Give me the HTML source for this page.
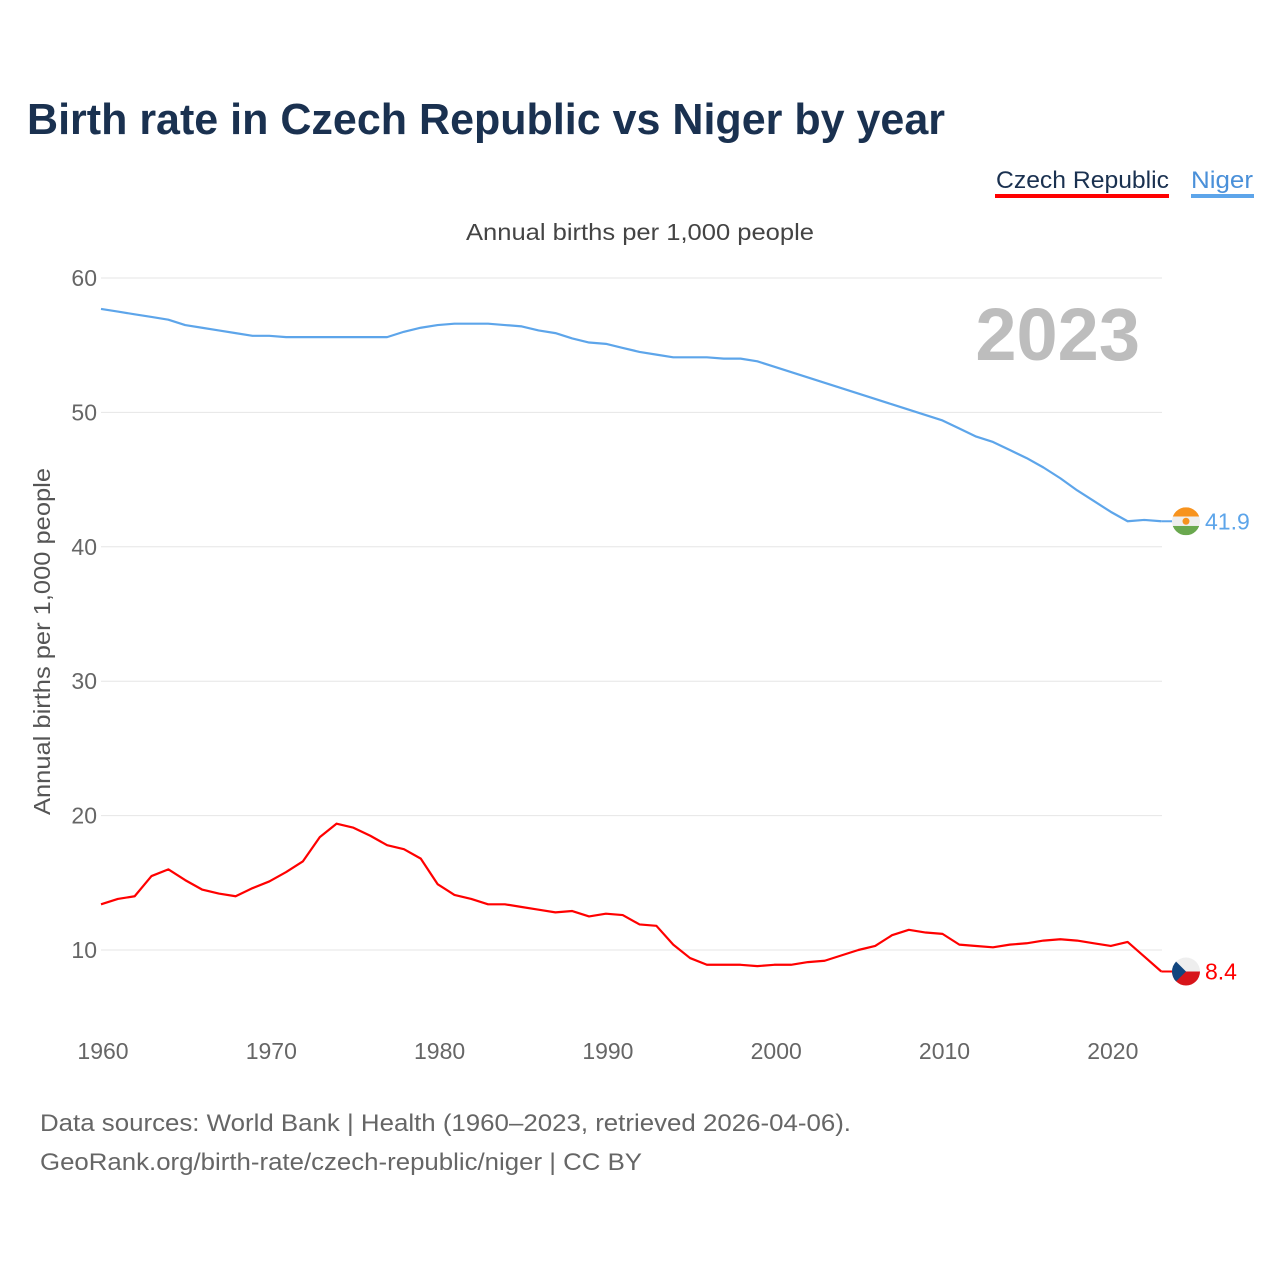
<!DOCTYPE html>
<html><head><meta charset="utf-8"><style>
body{margin:0;background:#fff;width:1280px;height:1280px;overflow:hidden;font-family:"Liberation Sans",sans-serif}
</style></head><body>
<svg width="1280" height="1280" xmlns="http://www.w3.org/2000/svg" font-family="Liberation Sans, sans-serif">
<text x="27" y="134" font-size="44" font-weight="bold" fill="#1a3150" textLength="918" lengthAdjust="spacingAndGlyphs">Birth rate in Czech Republic vs Niger by year</text>
<g>
<text x="996" y="188" font-size="24" fill="#1a3150" textLength="173" lengthAdjust="spacingAndGlyphs">Czech Republic</text>
<rect x="995" y="194" width="174" height="4" fill="#ff0000"/>
<text x="1191" y="188" font-size="24" fill="#4a90d9" textLength="62" lengthAdjust="spacingAndGlyphs">Niger</text>
<rect x="1191" y="194" width="63" height="4" fill="#5da5ea"/>
</g>
<text x="466" y="240" font-size="23" fill="#444" textLength="348" lengthAdjust="spacingAndGlyphs">Annual births per 1,000 people</text>
<text transform="translate(50,815) rotate(-90)" font-size="23" fill="#555" textLength="347" lengthAdjust="spacingAndGlyphs">Annual births per 1,000 people</text>
<text x="1140" y="360" font-size="74" font-weight="bold" fill="#bdbdbd" text-anchor="end">2023</text>
<g id="grid"></g><g id="xt"></g><g id="lines"></g>
<text x="40" y="1131" font-size="24" fill="#666" textLength="811" lengthAdjust="spacingAndGlyphs">Data sources: World Bank | Health (1960–2023, retrieved 2026-04-06).</text>
<text x="40" y="1170" font-size="24" fill="#666" textLength="602" lengthAdjust="spacingAndGlyphs">GeoRank.org/birth-rate/czech-republic/niger | CC BY</text>
</svg>
<script>
const yTicks=[10,20,30,40,50,60];
const xTicks=[1960,1970,1980,1990,2000,2010,2020];
const years=[];for(let y=1960;y<=2023;y++)years.push(y);
const czech=[13.4,13.8,14.0,15.5,16.0,15.2,14.5,14.2,14.0,14.6,15.1,15.8,16.6,18.4,19.4,19.1,18.5,17.8,17.5,16.8,14.9,14.1,13.8,13.4,13.4,13.2,13.0,12.8,12.9,12.5,12.7,12.6,11.9,11.8,10.4,9.4,8.9,8.9,8.9,8.8,8.9,8.9,9.1,9.2,9.6,10.0,10.3,11.1,11.5,11.3,11.2,10.4,10.3,10.2,10.4,10.5,10.7,10.8,10.7,10.5,10.3,10.6,9.5,8.4];
const niger=[57.7,57.5,57.3,57.1,56.9,56.5,56.3,56.1,55.9,55.7,55.7,55.6,55.6,55.6,55.6,55.6,55.6,55.6,56.0,56.3,56.5,56.6,56.6,56.6,56.5,56.4,56.1,55.9,55.5,55.2,55.1,54.8,54.5,54.3,54.1,54.1,54.1,54.0,54.0,53.8,53.4,53.0,52.6,52.2,51.8,51.4,51.0,50.6,50.2,49.8,49.4,48.8,48.2,47.8,47.2,46.6,45.9,45.1,44.2,43.4,42.6,41.9,42.0,41.9];
const X=v=>101+(v-1960)*16.83, Y=v=>950-(v-10)*13.44;
const NS="http://www.w3.org/2000/svg";
function mk(t,a,p){const e=document.createElementNS(NS,t);for(const k in a)e.setAttribute(k,a[k]);p.appendChild(e);return e;}
const g=document.getElementById('grid');
yTicks.forEach(v=>{
 const l=mk('line',{x1:101,x2:1162,y1:Y(v),y2:Y(v),stroke:'#e6e6e6','stroke-width':1},g);
 
 
 const t=mk('text',{x:97,y:Y(v)+8,'font-size':23,fill:'#666','text-anchor':'end'},g);t.textContent=v;
 
 
});
const xt=document.getElementById('xt');
xTicks.forEach(v=>{
 const t=mk('text',{x:X(v)+2,y:1059,'font-size':23,fill:'#666','text-anchor':'middle'},xt);t.textContent=v;
 
 
});
const L=document.getElementById('lines');
function series(d,c,name,flag){
 const p=mk('polyline',{points:d.map((v,i)=>X(years[i])+','+Y(v)).join(' '),fill:'none',stroke:c,'stroke-width':2.2,'stroke-linejoin':'round'},L);
 
 
 const last=d[d.length-1],cy=Y(last);
 mk('line',{x1:X(2023),x2:1172,y1:cy,y2:cy,stroke:c,'stroke-width':2},L);
 const f=mk('g',{},L);
 
 
 flag(f,1186,cy);
 const t=mk('text',{x:1205,y:cy+8,'font-size':23,fill:c},L);t.textContent=last.toFixed(1);
 
 
}
series(niger,'#5da5ea','niger',(f,x,y)=>{
 mk('clipPath',{id:'cn'},f).appendChild(document.createElementNS(NS,'circle'));
 const cp=f.querySelector('clipPath circle');cp.setAttribute('cx',x);cp.setAttribute('cy',y);cp.setAttribute('r',14);
 mk('rect',{x:x-14,y:y-14,width:28,height:9.3,fill:'#f7931e','clip-path':'url(#cn)'},f);
 mk('rect',{x:x-14,y:y-4.7,width:28,height:9.4,fill:'#eee','clip-path':'url(#cn)'},f);
 mk('rect',{x:x-14,y:y+4.7,width:28,height:9.3,fill:'#6aa84f','clip-path':'url(#cn)'},f);
 mk('circle',{cx:x,cy:y,r:3.5,fill:'#f7931e'},f);
});
series(czech,'#ff0000','czech',(f,x,y)=>{
 mk('clipPath',{id:'cc'},f).appendChild(document.createElementNS(NS,'circle'));
 const cp=f.querySelector('clipPath circle');cp.setAttribute('cx',x);cp.setAttribute('cy',y);cp.setAttribute('r',14);
 mk('rect',{x:x-14,y:y-14,width:28,height:14,fill:'#eee','clip-path':'url(#cc)'},f);
 mk('rect',{x:x-14,y:y,width:28,height:14,fill:'#d7141a','clip-path':'url(#cc)'},f);
 mk('polygon',{points:`${x-14},${y-14} ${x},${y} ${x-14},${y+14}`,fill:'#11457e','clip-path':'url(#cc)'},f);
});
</script>
</body></html>
